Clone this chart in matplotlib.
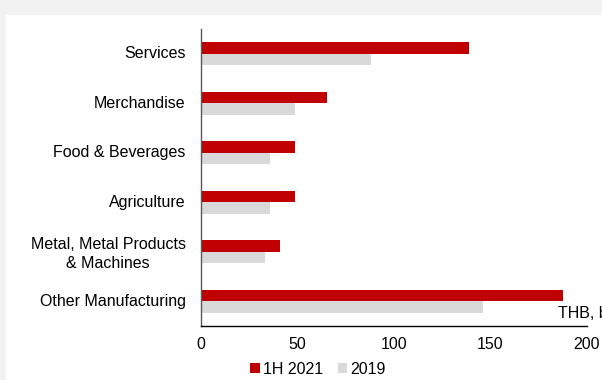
import matplotlib
matplotlib.use("Agg")
import matplotlib.pyplot as plt
from matplotlib.patches import Rectangle
import numpy as np

categories = ["Services", "Merchandise", "Food & Beverages", "Agriculture",
              "Metal, Metal Products\n& Machines", "Other Manufacturing"]
h1_2021 = [139, 65.5, 48.5, 48.5, 41, 187.5]
y2019 = [88, 48.5, 36, 36, 33, 146]
xticks = [0, 50, 100, 150, 200]

plt.rcParams['font.family'] = ['Liberation Sans', 'DejaVu Sans']

fig = plt.figure(figsize=(6.02, 3.8), dpi=100)
fig.patch.set_facecolor('#f2f2f2')
fig.patches.append(Rectangle((6/602, 0), 1, (380-15)/380, transform=fig.transFigure,
                             facecolor='white', edgecolor='none', zorder=-10))

ax = fig.add_axes([201/602, (380-326)/380, (587-201)/602, (326-29)/380])
ax.set_facecolor('none')
y = np.arange(len(categories))
bh = 0.23
ax.barh(y - bh/2, h1_2021, height=bh, color='#c00000', label='1H 2021')
ax.barh(y + bh/2, y2019, height=bh, color='#d9d9d9', label='2019')
ax.set_ylim(5.5, -0.5)
ax.set_xlim(0, 200)
ax.set_xticks(xticks)
ax.set_yticks(y - 0.03)
ax.set_yticklabels(categories, multialignment='center', linespacing=1.35)
ax.tick_params(axis='both', length=0, labelsize=11.5, colors='#000000')
ax.tick_params(axis='x', pad=8)
ax.tick_params(axis='y', pad=11)
for s in ['top', 'right']:
    ax.spines[s].set_visible(False)
ax.spines['left'].set_color('#595959')
ax.spines['bottom'].set_color('#000000')
ax.spines['left'].set_linewidth(1)
ax.spines['bottom'].set_linewidth(1)

ax.text(558/602, (380-313)/380, 'THB, bn', transform=fig.transFigure, fontsize=11.5,
        ha='left', va='center')

fig.legend(loc='center', bbox_to_anchor=(318/602, (380-369)/380), ncol=2, frameon=False,
           fontsize=11.5, handlelength=0.6, handleheight=0.6, handletextpad=0.2,
           columnspacing=0.9, borderaxespad=0)

fig.savefig('out.png', dpi=100, facecolor=fig.get_facecolor())
